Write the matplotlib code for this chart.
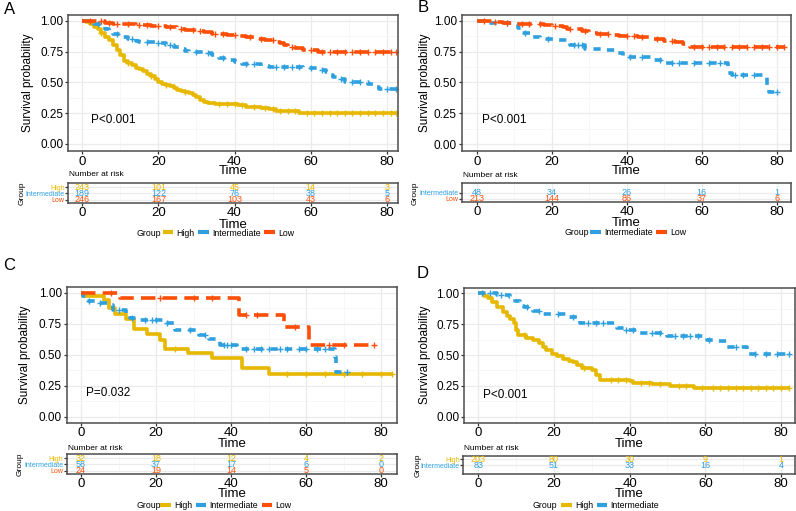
import numpy as np
import matplotlib.pyplot as plt
from matplotlib.lines import Line2D

plt.rcParams['font.family'] = ['Liberation Sans', 'DejaVu Sans']

W, H = 796, 511
GROUPS = ['High', 'Intermediate', 'Low']
COLORS = {'High': '#E7B800', 'Intermediate': '#2E9FDF', 'Low': '#FC4E07'}
DASHES = {'High': None, 'Intermediate': (2, 2), 'Low': (4, 2)}
risk_times = [0, 20, 40, 60, 80]

# ---- panel A ----
a_high_t = [0, 1, 2, 3, 4, 5, 6, 7, 8, 9, 10, 11, 12, 13, 14, 15, 16, 17, 18, 19, 20, 21, 22, 23, 24,
            25, 26, 27, 28, 29, 30, 31, 32, 33, 35, 41, 43, 47, 49, 51, 53, 57, 58]
a_high_s = [1.0, 0.99, 0.97, 0.95, 0.93, 0.90, 0.87, 0.84, 0.80, 0.76, 0.72, 0.67, 0.66, 0.64, 0.62,
            0.61, 0.59, 0.57, 0.55, 0.53, 0.505, 0.49, 0.48, 0.47, 0.455, 0.44, 0.43, 0.42, 0.41,
            0.395, 0.38, 0.36, 0.34, 0.33, 0.325, 0.315, 0.30, 0.29, 0.28, 0.27, 0.265, 0.255, 0.25]
a_high_c = [5, 12, 18, 22, 27, 36, 38, 40, 42, 45, 48, 50, 52, 54, 56, 59, 61, 63, 65, 67, 69, 71,
            73, 75, 77, 79, 81, 82.5]
a_int_t = [0, 2, 3, 5, 6, 7, 8, 10, 12, 14, 15, 19, 22, 24, 26, 27, 28, 32, 34, 36, 38, 40, 42, 47,
           49, 58, 62, 64, 65, 66, 67, 69, 75, 77, 78]
a_int_s = [1.0, 0.985, 0.975, 0.96, 0.93, 0.91, 0.89, 0.87, 0.85, 0.835, 0.825, 0.82, 0.80, 0.785,
           0.77, 0.755, 0.745, 0.735, 0.72, 0.695, 0.68, 0.665, 0.65, 0.635, 0.625, 0.615, 0.60,
           0.585, 0.56, 0.54, 0.525, 0.50, 0.49, 0.46, 0.445]
a_int_c = [4, 9, 13, 17, 20, 23, 30, 33, 37, 43, 45, 51, 53, 55, 57, 60, 63, 68, 71, 73, 80, 82.5]
a_low_t = [0, 3, 6, 8, 10, 14, 18, 22, 25, 27, 30, 32, 34, 38, 41, 43, 46, 48, 51, 52, 53, 54, 56,
           58, 62]
a_low_s = [1.0, 0.995, 0.985, 0.975, 0.97, 0.965, 0.955, 0.95, 0.935, 0.925, 0.915, 0.905, 0.895,
           0.885, 0.875, 0.865, 0.855, 0.84, 0.83, 0.82, 0.805, 0.79, 0.775, 0.76, 0.75]
a_low_c = [2, 5, 7, 9, 12, 15, 17, 20, 23, 26, 29, 31, 35, 37, 40, 44, 47, 50, 55, 60, 63, 65, 67,
           69, 71, 73, 75, 77, 79, 81, 82.5]
a_risk = {'High': [243, 101, 45, 14, 3], 'Intermediate': [189, 122, 76, 38, 5],
          'Low': [246, 167, 103, 43, 6]}

# ---- panel B ----
b_int_t = [0, 3, 5, 10, 11, 12, 15, 17, 21, 25, 29, 34, 37, 39, 47, 50, 67, 68, 77.5, 78]
b_int_s = [1.0, 0.985, 0.98, 0.975, 0.94, 0.90, 0.87, 0.85, 0.84, 0.80, 0.77, 0.76, 0.74, 0.71,
           0.685, 0.66, 0.575, 0.56, 0.45, 0.425]
b_int_c = [8, 13, 19, 26, 27, 28, 41, 44, 49, 52, 54, 58, 62, 65, 69, 71, 74, 80]
b_low_t = [0, 4, 7, 10, 15, 18, 20, 23, 24, 26, 28, 30, 32, 36, 38, 43, 46, 47, 50, 53, 55, 56, 57]
b_low_s = [1.0, 0.99, 0.98, 0.975, 0.97, 0.965, 0.96, 0.95, 0.935, 0.93, 0.92, 0.90, 0.89, 0.885,
           0.875, 0.87, 0.86, 0.85, 0.835, 0.83, 0.815, 0.80, 0.785]
b_low_c = [2, 5, 8, 12, 14, 17, 21, 25, 29, 33, 35, 40, 42, 44, 48, 52, 58, 60, 62, 64, 66, 68, 70,
           72, 74, 76, 78, 80, 82]
b_risk = {'Intermediate': [48, 34, 26, 16, 1], 'Low': [213, 144, 86, 37, 6]}

# ---- panel C ----
c_high_t = [0, 0.5, 6, 7.5, 9, 12, 14, 17.5, 21, 22.5, 28.5, 35, 43, 50]
c_high_s = [1.0, 0.97, 0.94, 0.875, 0.83, 0.79, 0.71, 0.67, 0.62, 0.55, 0.51, 0.47, 0.39, 0.345]
c_high_c = [25, 55, 60, 65, 70, 75, 80, 83]
c_int_t = [0, 0.5, 1.5, 4.5, 7.5, 8.5, 12, 13, 15.5, 22.5, 25, 31.5, 34, 37, 41.5, 67.7, 68]
c_int_s = [1.0, 0.97, 0.93, 0.915, 0.90, 0.86, 0.81, 0.80, 0.78, 0.755, 0.70, 0.66, 0.63, 0.58,
           0.545, 0.48, 0.36]
c_int_c = [2, 5, 10, 13.5, 17, 19, 20, 23, 29, 33, 38, 39, 40, 44, 46, 48, 50, 53, 55, 58, 60, 63,
           65, 71]
c_low_t = [0, 10.5, 42, 54, 60.7]
c_low_s = [1.0, 0.955, 0.82, 0.725, 0.58]
c_low_c = [8, 21, 30, 35, 44, 47, 57, 66, 70, 78]
c_risk = {'High': [32, 18, 12, 4, 2], 'Intermediate': [58, 37, 17, 6, 0], 'Low': [24, 19, 14, 5, 0]}

# ---- panel D ----
d_high_t = [0, 1.5, 2.5, 3.5, 5, 6.5, 7.5, 8.5, 9.5, 10, 10.6, 12.5, 14.5, 16, 17, 18, 19.5, 20.7,
            22.5, 24, 25, 26, 27.5, 30, 31, 32.2, 40, 41, 46, 50.7, 57]
d_high_s = [1.0, 0.98, 0.96, 0.93, 0.89, 0.85, 0.82, 0.79, 0.76, 0.70, 0.66, 0.635, 0.62, 0.595,
            0.565, 0.54, 0.51, 0.49, 0.47, 0.455, 0.44, 0.42, 0.395, 0.375, 0.34, 0.30, 0.29,
            0.275, 0.265, 0.25, 0.23]
d_high_c = [12, 28, 35, 37, 39, 43, 45, 48, 53, 55, 59, 62, 64, 66, 68, 70, 72, 74, 76, 78, 80, 82]
d_int_t = [0, 5, 8.4, 9.7, 11, 12, 14.5, 17.2, 23.4, 26.9, 36.6, 38.4, 42.8, 49.8, 60.4, 63.1,
           65.7, 71]
d_int_s = [1.0, 0.99, 0.97, 0.935, 0.90, 0.885, 0.86, 0.835, 0.81, 0.76, 0.72, 0.70, 0.68, 0.65,
           0.62, 0.61, 0.565, 0.51]
d_int_c = [1, 3, 6, 13, 16, 21, 25, 29, 31, 33, 39, 41, 46, 48, 52, 54, 56, 58, 61, 68, 73, 76, 79,
           82]
d_risk = {'High': [203, 80, 30, 9, 1], 'Intermediate': [83, 51, 33, 16, 4]}

curves = {
    'A': {'High': (a_high_t, a_high_s, a_high_c), 'Intermediate': (a_int_t, a_int_s, a_int_c),
          'Low': (a_low_t, a_low_s, a_low_c)},
    'B': {'Intermediate': (b_int_t, b_int_s, b_int_c), 'Low': (b_low_t, b_low_s, b_low_c)},
    'C': {'High': (c_high_t, c_high_s, c_high_c), 'Intermediate': (c_int_t, c_int_s, c_int_c),
          'Low': (c_low_t, c_low_s, c_low_c)},
    'D': {'High': (d_high_t, d_high_s, d_high_c), 'Intermediate': (d_int_t, d_int_s, d_int_c)},
}
risks = {'A': a_risk, 'B': b_risk, 'C': c_risk, 'D': d_risk}
pvals = {'A': 'P<0.001', 'B': 'P<0.001', 'C': 'P=0.032', 'D': 'P<0.001'}

# layout in pixels
layout = {
    'A': dict(box=(68, 15, 398, 151.5), x0=82.3, x80=386.7, y1=20.7, y0=144.0,
              risk=(68, 183.3, 398, 203.3), letter=(4, 10), ylab=28, gylab=22,
              pval=(2.2, 0.195), time1=171, nar=174.5, time2=224.5, leg=233,
              grp=136.7, legx=162.5),
    'B': dict(box=(461.7, 15, 790.7, 151.5), x0=476.7, x80=776.7, y1=20.7, y0=144.3,
              risk=(461.7, 183.3, 790.7, 202.3), letter=(418, 8), ylab=425, gylab=415,
              pval=(1.3, 0.197), time1=171.5, nar=175, time2=222.5, leg=232.7,
              grp=564.3, legx=590),
    'C': dict(box=(66.7, 286.7, 396.7, 422.7), x0=81, x80=381, y1=292.7, y0=416.7,
              risk=(66.7, 454.3, 396.7, 474.3), letter=(3, 265), ylab=25, gylab=20,
              pval=(1.3, 0.194), time1=443.5, nar=448.3, time2=494, leg=505.7,
              grp=136.7, legx=160),
    'D': dict(box=(464.3, 287.7, 795, 422.7), x0=478.3, x80=781, y1=293.3, y0=416.7,
              risk=(463.3, 456, 795, 474), letter=(417, 274), ylab=425, gylab=418,
              pval=(1.3, 0.176), time1=443.5, nar=448.3, time2=494, leg=506,
              grp=532.7, legx=561),
}

fig = plt.figure(figsize=(W / 100, H / 100), dpi=100)


def px_axes(x0, y0, x1, y1):
    return fig.add_axes([x0 / W, 1 - y1 / H, (x1 - x0) / W, (y1 - y0) / H])


def lim(a0, a1, p0, p1, e0, e1):
    s = (a1 - a0) / (p1 - p0)
    return a0 + (e0 - p0) * s, a0 + (e1 - p0) * s


def style(ax):
    for sp in ax.spines.values():
        sp.set_color('#4D4D4D')
        sp.set_linewidth(1.1)
    ax.set_axisbelow(True)
    ax.grid(True, which='major', color='#EBEBEB', lw=0.9)
    ax.grid(True, which='minor', color='#F4F4F4', lw=0.5)
    ax.tick_params(which='major', length=2.5, width=0.9, color='#333333', pad=1.0)
    ax.tick_params(which='minor', length=0)


def ftext(x, y, s, **kw):
    fig.text(x / W, 1 - y / H, s, **kw)


for name, L in layout.items():
    bx0, by0, bx1, by1 = L['box']
    xl = lim(0, 80, L['x0'], L['x80'], bx0, bx1)
    yl = lim(1, 0, L['y1'], L['y0'], by1, by0)
    ax = px_axes(*L['box'])
    style(ax)
    ax.set_xlim(*xl)
    ax.set_ylim(*yl)
    ax.set_xticks(risk_times)
    ax.set_xticks([10, 30, 50, 70], minor=True)
    ax.set_yticks([0, 0.25, 0.5, 0.75, 1.0])
    ax.set_yticks([0.125, 0.375, 0.625, 0.875], minor=True)
    ax.set_yticklabels(['0.00', '0.25', '0.50', '0.75', '1.00'])
    ax.tick_params(axis='x', labelsize=9.5, pad=0.5)
    ax.tick_params(axis='y', labelsize=8.5)
    for g in GROUPS:
        if g not in curves[name]:
            continue
        t, s, c = curves[name][g]
        end = max(max(c), t[-1])
        tt = list(t) + [end]
        ss = list(s) + [s[-1]]
        ln, = ax.plot(tt, ss, drawstyle='steps-post', color=COLORS[g], lw=2.6,
                      solid_capstyle='butt')
        if DASHES[g] is not None:
            ln.set_dashes(DASHES[g])
        idx = np.searchsorted(t, c, side='right') - 1
        ax.plot(c, np.array(s)[idx], '+', color=COLORS[g], ms=4.5, mew=1.0)
    ax.text(L['pval'][0], L['pval'][1], pvals[name], fontsize=8.5, ha='left', va='center')
    ftext(L['letter'][0], L['letter'][1], name, fontsize=12, ha='left', va='center')
    ftext(L['ylab'], (by0 + by1) / 2, 'Survival probability', fontsize=8.5, rotation=90,
          ha='center', va='center')
    ftext((bx0 + bx1) / 2, L['time1'], 'Time', fontsize=9.5, ha='center', va='center')

    # risk table
    rx0, ry0, rx1, ry1 = L['risk']
    rax = px_axes(*L['risk'])
    style(rax)
    rax.set_xlim(*lim(0, 80, L['x0'], L['x80'], rx0, rx1))
    rax.set_ylim(3.6, 0.4)
    rax.set_xticks(risk_times)
    rax.set_xticks([10, 30, 50, 70], minor=True)
    rax.tick_params(axis='x', labelsize=9.5, pad=0.5)
    rows = [i + 1 for i, g in enumerate(GROUPS) if g in risks[name]]
    labs = [g for g in GROUPS if g in risks[name]]
    rax.set_yticks(rows)
    rax.set_yticklabels(labs, fontsize=5)
    rax.tick_params(axis='y', pad=0.5, length=2)
    for tl, g in zip(rax.get_yticklabels(), labs):
        tl.set_color(COLORS[g])
    for r, g in zip(rows, labs):
        for t, n in zip(risk_times, risks[name][g]):
            rax.text(t, r, str(n), color=COLORS[g], fontsize=6.5, ha='center', va='center')
    ftext(rx0 + 1, L['nar'], 'Number at risk', fontsize=6, ha='left', va='center')
    ftext(L['gylab'], (ry0 + ry1) / 2, 'Group', fontsize=6, rotation=90, ha='center',
          va='center')
    ftext((rx0 + rx1) / 2, L['time2'], 'Time', fontsize=9.5, ha='center', va='center')

    # legend
    ftext(L['grp'], L['leg'], 'Group', fontsize=6.3, ha='left', va='center')
    handles = [Line2D([], [], color=COLORS[g], lw=3, solid_capstyle='butt') for g in labs]
    fig.legend(handles, labs, ncol=len(labs), loc='center left', frameon=False,
               bbox_to_anchor=(L['legx'] / W, 1 - L['leg'] / H), fontsize=6.3,
               handlelength=1.2, handletextpad=0.4, columnspacing=0.4, borderpad=0,
               borderaxespad=0)

fig.savefig('out.png', dpi=100)
